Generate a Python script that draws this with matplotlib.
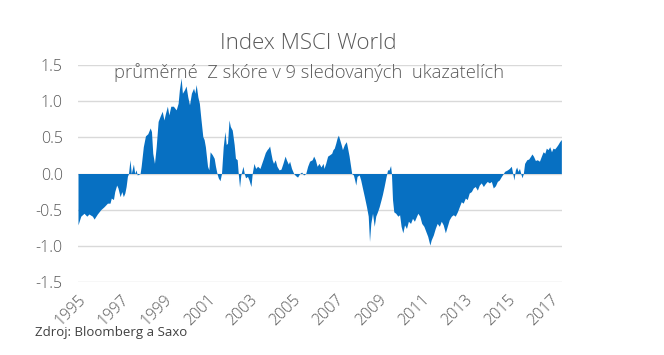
import matplotlib.pyplot as plt

# decimal years and average Z score
years = [
    1995.00, 1995.13, 1995.28, 1995.41, 1995.51, 1995.67, 1995.75, 1995.90, 1996.06, 1996.21,
    1996.37, 1996.49, 1996.55, 1996.65, 1996.71, 1996.80, 1996.86, 1996.96, 1997.04, 1997.11,
    1997.18, 1997.24, 1997.30, 1997.35, 1997.42, 1997.48, 1997.58, 1997.64, 1997.70, 1997.76,
    1997.89, 1997.94, 1998.04, 1998.14, 1998.25, 1998.36, 1998.42, 1998.48, 1998.56, 1998.64,
    1998.73, 1998.82, 1998.92, 1999.00, 1999.07, 1999.16, 1999.23, 1999.32, 1999.44, 1999.57,
    1999.66, 1999.72, 1999.80, 1999.86, 1999.96, 2000.03, 2000.11, 2000.19, 2000.28, 2000.38,
    2000.44, 2000.50, 2000.58, 2000.65, 2000.72, 2000.81, 2000.87, 2000.93, 2001.03, 2001.09,
    2001.15, 2001.25, 2001.34, 2001.40, 2001.47, 2001.53, 2001.61, 2001.68, 2001.76, 2001.84,
    2001.90, 2001.96, 2002.03, 2002.09, 2002.18, 2002.27, 2002.33, 2002.41, 2002.46, 2002.52,
    2002.58, 2002.68, 2002.74, 2002.80, 2002.89, 2002.96, 2003.05, 2003.11, 2003.19, 2003.27,
    2003.36, 2003.47, 2003.55, 2003.62, 2003.72, 2003.80, 2003.86, 2003.92, 2003.98, 2004.04,
    2004.10, 2004.18, 2004.26, 2004.36, 2004.45, 2004.54, 2004.64, 2004.70, 2004.79, 2004.85,
    2004.94, 2005.04, 2005.13, 2005.22, 2005.32, 2005.41, 2005.50, 2005.60, 2005.69, 2005.78,
    2005.90, 2005.97, 2006.05, 2006.13, 2006.22, 2006.31, 2006.41, 2006.45, 2006.53, 2006.62,
    2006.72, 2006.81, 2006.87, 2006.93, 2007.00, 2007.06, 2007.12, 2007.18, 2007.25, 2007.31,
    2007.40, 2007.49, 2007.55, 2007.62, 2007.68, 2007.74, 2007.82, 2007.88, 2007.93, 2007.99,
    2008.09, 2008.16, 2008.24, 2008.33, 2008.43, 2008.51, 2008.57, 2008.63, 2008.71, 2008.79,
    2008.86, 2008.94, 2009.02, 2009.11, 2009.17, 2009.25, 2009.33, 2009.41, 2009.48, 2009.55,
    2009.59, 2009.64, 2009.70, 2009.79, 2009.89, 2009.97, 2010.04, 2010.12, 2010.20, 2010.29,
    2010.38, 2010.48, 2010.57, 2010.66, 2010.76, 2010.82, 2010.91, 2011.00, 2011.10, 2011.19,
    2011.28, 2011.38, 2011.44, 2011.54, 2011.63, 2011.72, 2011.82, 2011.91, 2012.00, 2012.10,
    2012.19, 2012.28, 2012.38, 2012.47, 2012.56, 2012.66, 2012.75, 2012.84, 2012.93, 2013.03,
    2013.12, 2013.21, 2013.31, 2013.40, 2013.49, 2013.59, 2013.68, 2013.77, 2013.87, 2013.96,
    2014.05, 2014.15, 2014.24, 2014.33, 2014.43, 2014.52, 2014.61, 2014.71, 2014.80, 2014.86,
    2014.99, 2015.08, 2015.17, 2015.25, 2015.29, 2015.36, 2015.42, 2015.48, 2015.55, 2015.61,
    2015.67, 2015.73, 2015.79, 2015.89, 2015.98, 2016.07, 2016.13, 2016.20, 2016.29, 2016.38,
    2016.48, 2016.57, 2016.65, 2016.73, 2016.80, 2016.88, 2016.96, 2017.04, 2017.11, 2017.19,
    2017.27, 2017.34, 2017.42, 2017.50,
]
zscore = [
    -0.71, -0.59, -0.55, -0.59, -0.56, -0.59, -0.63, -0.56, -0.50, -0.46,
    -0.41, -0.41, -0.34, -0.36, -0.25, -0.16, -0.20, -0.32, -0.25, -0.32,
    -0.27, -0.18, -0.04, 0.00, 0.19, 0.00, 0.13, 0.00, 0.05, -0.02,
    0.00, 0.10, 0.37, 0.52, 0.55, 0.63, 0.58, 0.28, 0.14, 0.37,
    0.72, 0.79, 0.86, 0.74, 0.83, 0.93, 0.81, 0.93, 0.93, 0.88,
    0.97, 1.16, 1.32, 1.11, 1.16, 1.21, 1.06, 0.95, 1.11, 1.18,
    1.11, 1.23, 1.06, 0.97, 0.76, 0.51, 0.47, 0.37, 0.10, 0.05,
    0.30, 0.26, 0.21, 0.10, 0.00, -0.06, -0.10, 0.00, 0.37, 0.58,
    0.40, 0.42, 0.74, 0.65, 0.60, 0.40, 0.21, 0.19, 0.00, -0.19,
    -0.02, 0.10, 0.00, -0.06, -0.04, -0.09, -0.18, 0.00, 0.14, 0.07,
    0.10, 0.07, 0.14, 0.20, 0.29, 0.33, 0.35, 0.38, 0.28, 0.19,
    0.14, 0.19, 0.10, 0.05, 0.06, 0.14, 0.24, 0.19, 0.13, 0.17,
    0.07, 0.00, -0.03, -0.05, 0.00, 0.02, -0.02, 0.00, 0.10, 0.17,
    0.19, 0.24, 0.19, 0.10, 0.14, 0.09, 0.14, 0.07, 0.14, 0.24,
    0.26, 0.28, 0.33, 0.35, 0.42, 0.49, 0.53, 0.47, 0.40, 0.33,
    0.40, 0.44, 0.35, 0.24, 0.12, 0.00, -0.02, -0.09, -0.16, -0.04,
    -0.02, -0.09, -0.20, -0.32, -0.46, -0.59, -0.94, -0.69, -0.55, -0.73,
    -0.59, -0.53, -0.46, -0.36, -0.29, -0.18, -0.06, 0.05, 0.05, 0.11,
    0.00, -0.36, -0.53, -0.55, -0.59, -0.57, -0.73, -0.82, -0.71, -0.76,
    -0.66, -0.69, -0.62, -0.66, -0.59, -0.55, -0.59, -0.69, -0.73, -0.80,
    -0.87, -0.99, -0.92, -0.85, -0.76, -0.69, -0.73, -0.66, -0.71, -0.82,
    -0.73, -0.64, -0.59, -0.57, -0.59, -0.53, -0.46, -0.39, -0.41, -0.34,
    -0.36, -0.27, -0.25, -0.20, -0.18, -0.23, -0.16, -0.13, -0.18, -0.14,
    -0.11, -0.13, -0.11, -0.20, -0.17, -0.11, -0.09, -0.04, 0.00, 0.03,
    0.05, 0.07, 0.10, -0.02, -0.09, 0.05, 0.09, 0.03, 0.07, 0.00,
    -0.06, 0.00, 0.14, 0.19, 0.20, 0.24, 0.27, 0.24, 0.18, 0.19,
    0.17, 0.24, 0.30, 0.28, 0.35, 0.33, 0.37, 0.30, 0.35, 0.34,
    0.37, 0.40, 0.44, 0.47,
]

tick_years = list(range(1995, 2018, 2))
yticks = [-1.5, -1.0, -0.5, 0.0, 0.5, 1.0, 1.5]

plt.rcParams['font.family'] = ['Open Sans', 'DejaVu Sans']

fig = plt.figure(figsize=(6.64, 3.55), dpi=100)
ax = fig.add_axes([78 / 664, 1 - 282 / 355, 484 / 664, 217 / 355])

ax.fill_between(years, zscore, 0, color='#0770C2', linewidth=0, zorder=2)

ax.set_xlim(1995, 2017.53)
ax.set_ylim(-1.5, 1.5)
ax.set_yticks(yticks)
ax.set_yticklabels([f'{v:.1f}' for v in yticks], fontsize=11.5, color='#595959', fontweight='light')
ax.set_xticks(tick_years)
ax.set_xticklabels([str(y) for y in tick_years], rotation=45, ha='right', rotation_mode='anchor',
                   fontsize=11.5, color='#595959', fontweight='light')
ax.tick_params(length=0)
ax.tick_params(axis='y', pad=11)
ax.tick_params(axis='x', pad=7)
ax.grid(axis='y', color='#D9D9D9', linewidth=1, zorder=0)
for s in ax.spines.values():
    s.set_visible(False)

fig.text(0.464, 0.878, 'Index MSCI World', ha='center', va='center', fontsize=16,
         color='#595959', fontweight='light')
fig.text(0.465, 0.797, 'průměrné  Z skóre v 9 sledovaných  ukazatelích', ha='center', va='center',
         fontsize=13.2, color='#595959', fontweight='light')
fig.text(0.053, 0.062, 'Zdroj: Bloomberg a Saxo', ha='left', va='center', fontsize=9.5,
         color='#404040')

plt.savefig('out.png', dpi=100)
